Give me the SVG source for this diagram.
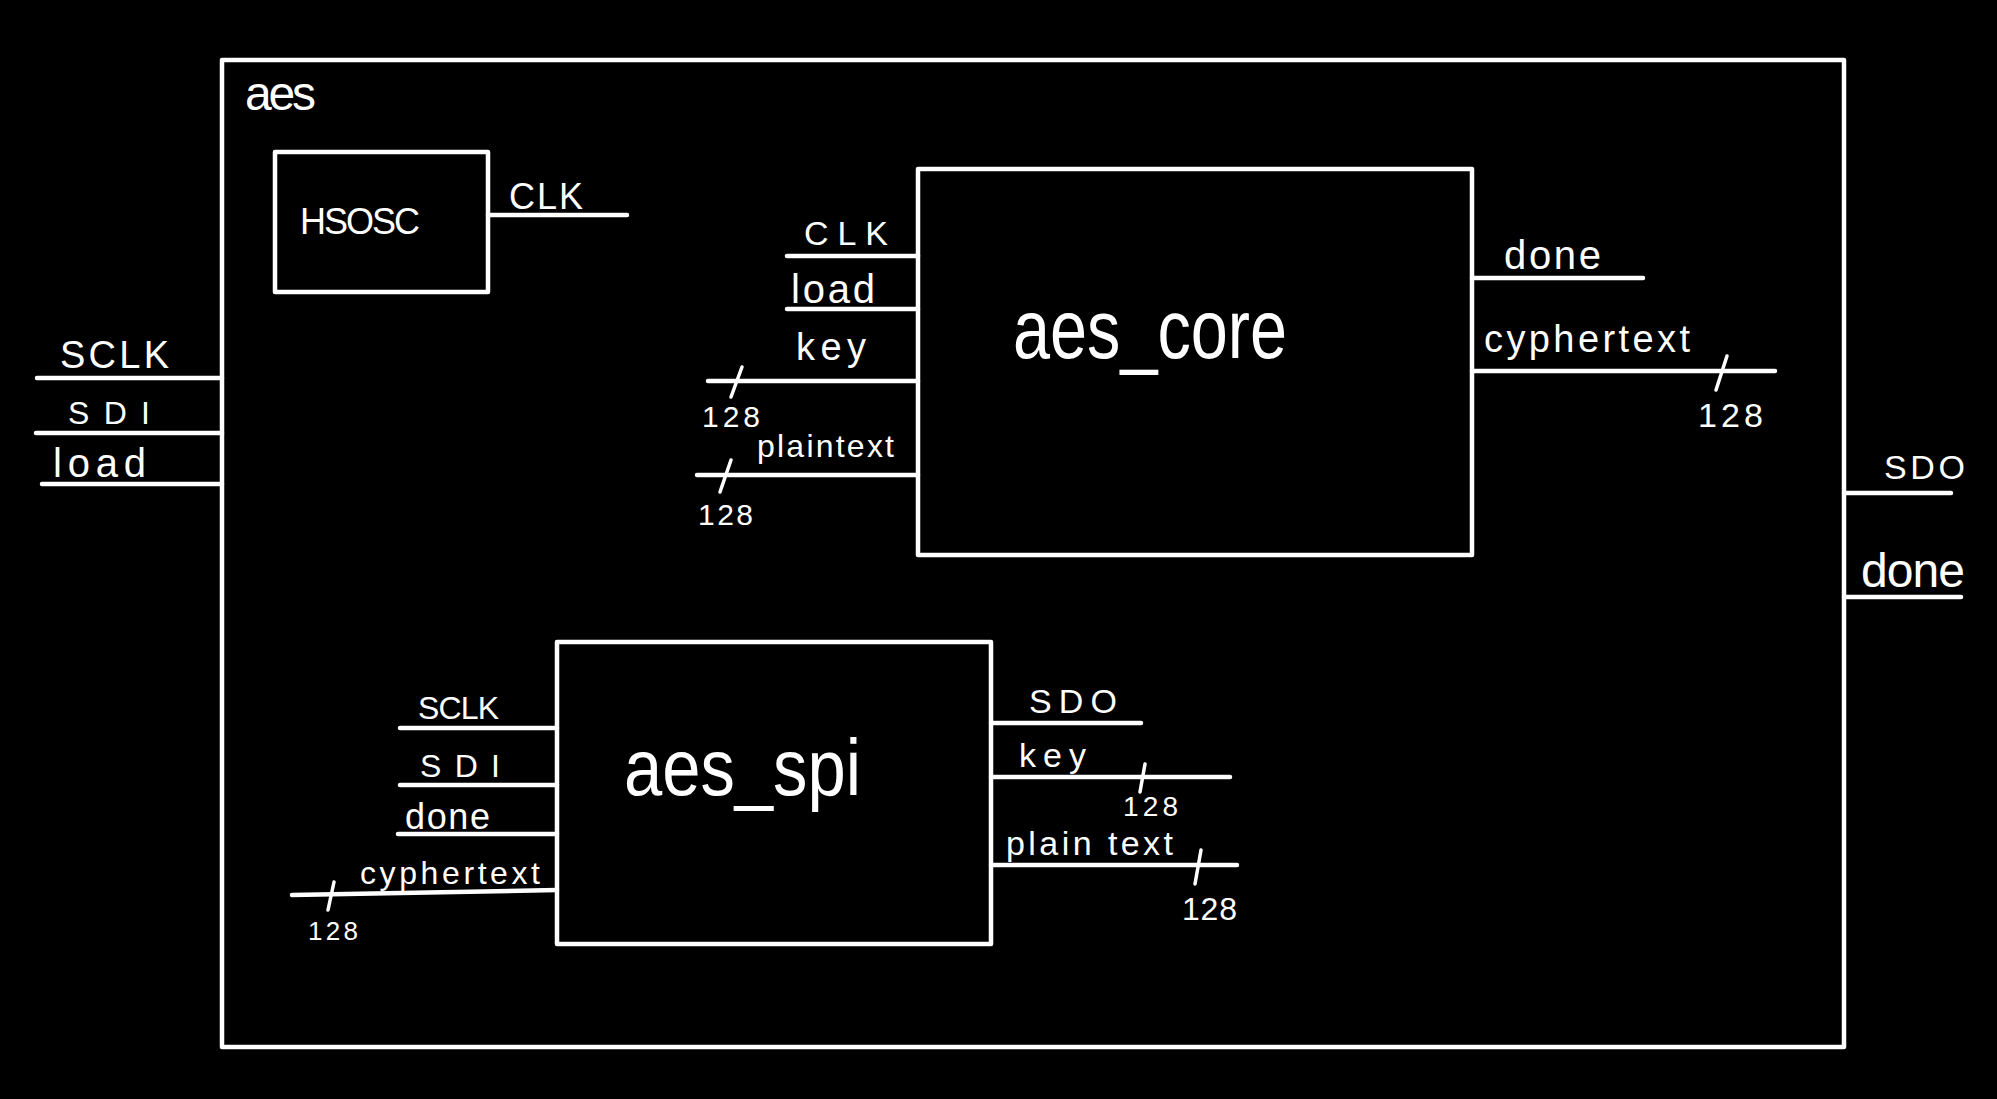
<svg xmlns="http://www.w3.org/2000/svg" width="1997" height="1099" viewBox="0 0 1997 1099">
<style>
.box{fill:none;stroke:#fff;stroke-width:4.5;stroke-linejoin:round}
.w{fill:none;stroke:#fff;stroke-width:4.5;stroke-linecap:round}
.tk{fill:none;stroke:#fff;stroke-width:3.5;stroke-linecap:round}
.t{fill:#fff;font-family:"Liberation Sans",Arial,sans-serif}
</style>
<rect x="0" y="0" width="1997" height="1099" fill="#000"/>
<g id="aes">
<rect class="box" x="222" y="60" width="1622" height="987"/>
<text class="t" x="245" y="110" font-size="48" textLength="71">aes</text>
</g>
<g id="hsosc">
<rect class="box" x="275" y="152" width="213" height="140"/>
<text class="t" x="300" y="234" font-size="36" textLength="120">HSOSC</text>
</g>
<g id="aes_core">
<rect class="box" x="918" y="169" width="554" height="386"/>
<text class="t" x="1013" y="358" font-size="84" textLength="274" lengthAdjust="spacingAndGlyphs">aes_core</text>
</g>
<g id="aes_spi">
<rect class="box" x="557" y="642" width="434" height="302"/>
<text class="t" x="624" y="795" font-size="80" textLength="237" lengthAdjust="spacingAndGlyphs">aes_spi</text>
</g>
<g id="connectors">
<!-- HSOSC CLK -->
<line class="w" x1="488" y1="215" x2="627" y2="215"/>
<text class="t" x="509" y="209" font-size="36" textLength="74">CLK</text>
<!-- external inputs -->
<line class="w" x1="37" y1="378" x2="222" y2="378"/>
<text class="t" x="60" y="368" font-size="38" textLength="109">SCLK</text>
<line class="w" x1="36" y1="433" x2="222" y2="433"/>
<text class="t" x="68" y="424" font-size="32" textLength="82">SDI</text>
<line class="w" x1="42" y1="484" x2="222" y2="484"/>
<text class="t" x="53" y="477" font-size="40" textLength="93">load</text>
<!-- external outputs -->
<line class="w" x1="1844" y1="493" x2="1951" y2="493"/>
<text class="t" x="1884" y="479" font-size="34" textLength="81">SDO</text>
<line class="w" x1="1844" y1="597" x2="1961" y2="597"/>
<text class="t" x="1861" y="587" font-size="48" textLength="104">done</text>
<!-- aes_core inputs -->
<line class="w" x1="787" y1="256" x2="918" y2="256"/>
<text class="t" x="804" y="245" font-size="34" textLength="84">CLK</text>
<line class="w" x1="787" y1="309" x2="918" y2="309"/>
<text class="t" x="791" y="303" font-size="40" textLength="84">load</text>
<line class="w" x1="708" y1="381" x2="918" y2="381"/>
<line class="tk" x1="742" y1="367" x2="731" y2="397"/>
<text class="t" x="796" y="360" font-size="38" textLength="70">key</text>
<text class="t" x="702" y="427" font-size="30" textLength="58">128</text>
<line class="w" x1="697" y1="475" x2="918" y2="475"/>
<line class="tk" x1="731" y1="460" x2="720" y2="492"/>
<text class="t" x="757" y="457" font-size="32" textLength="137">plaintext</text>
<text class="t" x="698" y="525" font-size="30" textLength="55">128</text>
<!-- aes_core outputs -->
<line class="w" x1="1472" y1="278" x2="1643" y2="278"/>
<text class="t" x="1504" y="269" font-size="40" textLength="97">done</text>
<line class="w" x1="1472" y1="371" x2="1775" y2="371"/>
<line class="tk" x1="1727" y1="356" x2="1716" y2="390"/>
<text class="t" x="1484" y="352" font-size="38" textLength="206">cyphertext</text>
<text class="t" x="1698" y="427" font-size="34" textLength="65">128</text>
<!-- aes_spi inputs -->
<line class="w" x1="400" y1="728" x2="557" y2="728"/>
<text class="t" x="418" y="719" font-size="32" textLength="81">SCLK</text>
<line class="w" x1="400" y1="785" x2="557" y2="785"/>
<text class="t" x="420" y="777" font-size="32" textLength="80">SDI</text>
<line class="w" x1="398" y1="834" x2="557" y2="834"/>
<text class="t" x="405" y="829" font-size="36" textLength="85">done</text>
<line class="w" x1="292" y1="895" x2="557" y2="890"/>
<line class="tk" x1="334" y1="882" x2="328" y2="910"/>
<text class="t" x="360" y="884" font-size="32" textLength="180">cyphertext</text>
<text class="t" x="308" y="940" font-size="26" textLength="50">128</text>
<!-- aes_spi outputs -->
<line class="w" x1="991" y1="723" x2="1141" y2="723"/>
<text class="t" x="1029" y="713" font-size="34" textLength="88">SDO</text>
<line class="w" x1="991" y1="777" x2="1230" y2="777"/>
<line class="tk" x1="1145" y1="764" x2="1140" y2="792"/>
<text class="t" x="1019" y="767" font-size="34" textLength="67">key</text>
<text class="t" x="1123" y="816" font-size="28" textLength="55">128</text>
<line class="w" x1="991" y1="865" x2="1237" y2="865"/>
<line class="tk" x1="1201" y1="850" x2="1195" y2="884"/>
<text class="t" x="1006" y="855" font-size="34" textLength="167">plain text</text>
<text class="t" x="1182" y="920" font-size="32" textLength="55">128</text>
</g>
</svg>
